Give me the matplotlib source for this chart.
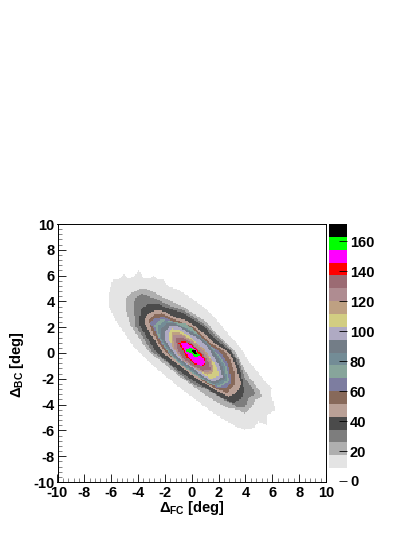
import numpy as np
import matplotlib
matplotlib.use("Agg")
import matplotlib.pyplot as plt
from matplotlib.colors import ListedColormap, BoundaryNorm
from matplotlib.path import Path
from matplotlib.ticker import MultipleLocator

plt.rcParams['font.family'] = ['Liberation Sans', 'DejaVu Sans']
plt.rcParams['font.weight'] = 'bold'
plt.rcParams['mathtext.fontset'] = 'custom'
plt.rcParams['mathtext.rm'] = 'Liberation Sans'
plt.rcParams['mathtext.bf'] = 'Liberation Sans:bold'

# width of one colour band in counts
band = 8.57

colors = ['#ffffff', '#e4e4e4', '#afafaf', '#7d7d7d', '#4b4b4b', '#b9a096', '#87695a',
          '#7d7da0', '#87a59b', '#738c96', '#737d87', '#afaac3', '#d2cd82', '#bea082',
          '#af8c91', '#9b6b73', '#ff0000', '#ff00ff', '#00ff00', '#000000']

# contour outlines, lowest band first (x, y in deg)
x1 = [-5.89, -5.46, -5.09, -4.72, -4.35, -3.90, -3.60, -3.10, -2.86, -2.56, -2.11, -1.74, -1.12, -.45, .3, 1.1, 1.9, 2.75, 3.25, 3.75, 4.1, 4.47, 4.97, 5.46, 5.96, 5.84, 6.08, 6.21, 5.64, 5.59, 4.97, 4.59, 3.97, 3.35, 2.7, 2.0, 1.35, .7, .05, -.7, -1.35, -2.1, -3.1, -3.7, -4.35, -4.8, -5.2, -5.6, -5.9, -6.15, -6.25, -6.1]
y1 = [5.73, 5.66, 6.10, 5.79, 5.92, 6.43, 5.79, 5.79, 6.04, 5.66, 5.66, 5.14, 4.96, 4.55, 4.0, 3.4, 2.5, 1.45, .88, .24, -.41, -.93, -1.57, -2.22, -2.73, -3.12, -3.77, -4.41, -4.80, -5.58, -5.32, -5.84, -5.96, -5.71, -5.35, -4.9, -4.45, -3.95, -3.4, -2.85, -2.3, -1.65, -.80, -.16, .50, 1.20, 1.78, 2.43, 2.94, 3.5, 4.24, 4.88]
x2 = [-4.84, -4.35, -3.73, -3.10, -2.48, -1.6, -.65, .2, .95, 1.85, 2.35, 2.85, 3.3, 3.65, 4.0, 4.35, 4.72, 5.09, 5.22, 4.72, 4.47, 3.97, 3.48, 2.7, 1.85, 1.05, .3, -.3, -.95, -1.55, -2.25, -3.1, -3.65, -4.15, -4.6, -4.8, -4.95]
y2 = [4.37, 4.75, 5.06, 4.88, 4.49, 4.05, 3.6, 3.0, 2.5, 1.5, 1.0, .5, 0, -.67, -1.4, -1.96, -2.48, -2.99, -3.38, -3.64, -4.16, -4.67, -4.41, -4.25, -3.8, -3.25, -2.7, -2.25, -1.8, -1.25, -.67, 0, .75, 1.52, 2.2, 2.94, 3.59]
x3 = [-4.22, -3.73, -3.10, -2.48, -1.74, -.6, .25, .85, 1.75, 2.35, 2.9, 3.45, 3.8, 4.0, 4.47, 4.72, 4.22, 3.97, 3.35, 2.6, 1.85, 1.1, .3, -.45, -1.2, -2.05, -2.85, -3.35, -3.8, -4.15, -4.25, -4.3]
y3 = [4.24, 4.62, 4.37, 4.11, 3.72, 3.3, 2.75, 2.3, 1.35, .8, .24, -.54, -1.4, -2.0, -2.61, -3.12, -3.51, -4.16, -4.15, -3.75, -3.25, -2.8, -2.5, -2.0, -1.35, -.55, 0, .75, 1.52, 2.0, 2.94, 3.59]
x4 = [-3.85, -3.73, -3.10, -2.48, -1.74, -.55, .25, .95, 1.5, 2.15, 2.95, 3.3, 3.6, 3.75, 3.90, 3.73, 3.10, 2.4, 1.6, .9, -.13, -.7, -1.3, -1.95, -2.6, -3.1, -3.6, -3.95]
y4 = [2.94, 3.46, 3.85, 3.77, 3.46, 3.05, 2.5, 2.05, 1.3, .75, .11, -.54, -1.31, -2.0, -2.86, -3.51, -3.90, -3.55, -3.05, -2.6, -2.0, -1.55, -1.1, -.55, 0, .83, 1.65, 2.3]
x5 = [-3.48, -3.23, -2.61, -1.99, -1.37, -.45, .3, .8, 1.75, 2.7, 3.05, 3.3, 3.5, 3.73, 3.48, 3.23, 2.73, 1.95, 1.05, .37, -.25, -.8, -1.5, -2.14, -2.7, -3.2, -3.5]
y5 = [2.69, 3.07, 3.33, 3.20, 2.81, 2.55, 2.05, 1.6, .75, .1, -.41, -1.05, -1.83, -2.35, -2.86, -3.12, -3.38, -3.0, -2.4, -2.0, -1.5, -1.05, -.54, 0, .88, 1.65, 2.3]
x6 = [-3.23, -2.86, -2.23, -1.61, -.8, .1, .75, 1.45, 2.45, 2.8, 3.05, 3.25, 3.2, 2.61, 1.9, 1.1, .4, -.2, -.6, -1.2, -1.9, -2.45, -2.9, -3.10]
y6 = [2.56, 2.94, 3.07, 2.74, 2.4, 2.0, 1.39, .75, .1, -.41, -1.05, -1.83, -2.48, -3.1, -2.8, -2.35, -1.8, -1.31, -.93, -.5, 0, .75, 1.52, 2.17]
x7 = [-3.10, -2.73, -2.11, -1.49, -.6, .25, .7, 1.3, 2.1, 2.45, 2.75, 2.9, 2.86, 2.48, 1.85, 1.1, .4, -.1, -.65, -1.65, -2.1, -2.55, -2.86]
y7 = [2.30, 2.69, 2.81, 2.48, 2.2, 1.65, 1.2, .65, .1, -.41, -1.05, -1.9, -2.35, -2.73, -2.65, -2.2, -1.6, -1.18, -.75, -.1, .49, 1.26, 1.91]
x8 = [-2.8, -2.3, -1.5, -.4, .45, 1.2, 2.15, 2.6, 2.8, 2.1, 1.2, .1, -.7, -1.5, -1.9, -2.5]
y8 = [2.2, 2.6, 2.45, 2.25, 1.55, .75, -.3, -1.1, -2.2, -2.6, -2.3, -1.6, -1.0, -.3, .3, 1.3]
x9 = [-2.55, -2.0, -1.3, -.45, .5, 1.25, 2.0, 2.45, 2.65, 1.95, 1.05, .1, -.65, -1.3, -1.85, -2.4]
y9 = [2.1, 2.5, 2.35, 1.95, 1.4, .7, -.3, -1.0, -2.1, -2.55, -2.15, -1.5, -.95, -.4, .3, 1.2]
x10 = [-2.3, -1.8, -1.15, -.35, .6, 1.3, 1.9, 2.25, 2.5, 1.75, .95, .15, -.55, -1.2, -1.7, -2.3]
y10 = [1.85, 2.35, 2.25, 1.8, 1.25, .55, -.3, -1.0, -2.0, -2.4, -2.0, -1.4, -.9, -.35, .3, 1.2]
x11 = [-2.0, -1.6, -1.0, -.3, .6, 1.25, 1.7, 2.05, 2.3, 1.6, .9, .2, -.45, -1.05, -1.5, -2.0]
y11 = [1.6, 2.15, 2.05, 1.6, 1.05, .35, -.4, -1.0, -1.85, -2.25, -1.85, -1.25, -.8, -.3, .25, 1.0]
x12 = [-1.74, -1.49, -.99, -.1, .45, .95, 1.4, 1.8, 2.05, 1.45, .95, .25, -.37, -.87, -1.24, -1.74]
y12 = [1.52, 1.86, 1.78, 1.3, .75, .24, -.41, -.93, -1.75, -2.05, -1.7, -.93, -.54, -.15, .36, 1.0]
x13 = [-1.55, -.95, .05, .9, 1.5, 1.65, 1.15, .3, -.65, -1.45]
y13 = [1.6, 1.6, 1.0, .35, -.6, -1.5, -1.65, -1.25, -.6, .45]
x14 = [-1.4, -.8, .1, .85, 1.4, 1.55, 1.05, .2, -.65, -1.3]
y14 = [1.45, 1.45, .85, .25, -.7, -1.4, -1.5, -1.15, -.55, .4]
x15 = [-1.2, -.65, .1, .75, 1.25, 1.4, .85, .1, -.6, -1.1]
y15 = [1.2, 1.2, .7, .05, -.7, -1.25, -1.37, -1.0, -.45, .35]
x16 = [-1.0, -.62, 0, .57, 1.04, .92, .24, -.38, -.75]
y16 = [.75, .93, .67, .10, -.54, -1.06, -.85, -.33, .36]
x17 = [-.80, -.50, 0, .62, 1.04, .74, .24, -.25, -.62]
y17 = [.75, .83, .57, -.15, -.67, -1.0, -.80, -.33, .36]
x18 = [-.50, -.13, .24, .57, .49, .17, -.13]
y18 = [.18, .41, .23, -.15, -.36, -.23, .03]
x19 = [0, .24, .42, .24]
y19 = [.18, .18, -.08, -.08]

outlines = [(x1, y1), (x2, y2), (x3, y3), (x4, y4), (x5, y5), (x6, y6), (x7, y7),
            (x8, y8), (x9, y9), (x10, y10), (x11, y11), (x12, y12), (x13, y13),
            (x14, y14), (x15, y15), (x16, y16), (x17, y17), (x18, y18), (x19, y19)]

edges = np.linspace(-10, 10, 201)
centers = (edges[:-1] + edges[1:]) / 2
xx, yy = np.meshgrid(centers, centers)
pts = np.column_stack([xx.ravel(), yy.ravel()])

counts = np.full(pts.shape[0], 0.5 * band)
for k, (ox, oy) in enumerate(outlines):
    inside = Path(np.column_stack([ox, oy])).contains_points(pts)
    counts[inside] = (k + 1.5) * band
counts = counts.reshape(xx.shape)

fig = plt.figure(figsize=(4.15, 5.37), dpi=100)
ax = fig.add_axes([57.5 / 415, 1 - 482 / 537, 268.5 / 415, 258 / 537])
cax = fig.add_axes([329 / 415, 1 - 481 / 537, 17.5 / 415, 257 / 537])

bounds = np.arange(21) * band
cmap = ListedColormap(colors)
norm = BoundaryNorm(bounds, cmap.N)
mesh = ax.pcolormesh(edges, edges, counts, cmap=cmap, norm=norm, antialiased=False)

ax.set_xlim(-10, 10)
ax.set_ylim(-10, 10)
ax.xaxis.set_major_locator(MultipleLocator(2))
ax.yaxis.set_major_locator(MultipleLocator(2))
ax.xaxis.set_minor_locator(MultipleLocator(0.4))
ax.yaxis.set_minor_locator(MultipleLocator(0.4))
ax.tick_params(which='major', direction='in', length=5.5, width=0.6, labelsize=10.5, pad=2)
ax.tick_params(which='minor', direction='in', length=2.7, width=0.5, color='#555555')
ax.tick_params(axis='x', pad=3)
for s in ax.spines.values():
    s.set_linewidth(0.7)
ax.set_xticks(np.arange(-10, 11, 2))
ax.set_yticks(np.arange(-10, 11, 2))
ax.set_xticklabels([str(v) for v in range(-10, 11, 2)])
ax.set_yticklabels([str(v) for v in range(-10, 11, 2)])

fig.text(192 / 415, 1 - 508 / 537, r'$\Delta_{\mathbf{FC}}$ [deg]', ha='center', va='center', fontsize=10.5)
fig.text(17 / 415, 1 - 365 / 537, r'$\Delta_{\mathbf{BC}}$ [deg]', ha='center', va='center', rotation=90, fontsize=10.5)

cbar = fig.colorbar(mesh, cax=cax, ticks=np.arange(0, 161, 20))
cbar.outline.set_visible(False)
cbar.ax.minorticks_off()
cbar.ax.tick_params(direction='in', length=5.5, width=0.6, labelsize=10.5, pad=2.5)
cbar.ax.set_yticklabels([str(v) for v in range(0, 161, 20)])

fig.savefig('out.png', dpi=100)
